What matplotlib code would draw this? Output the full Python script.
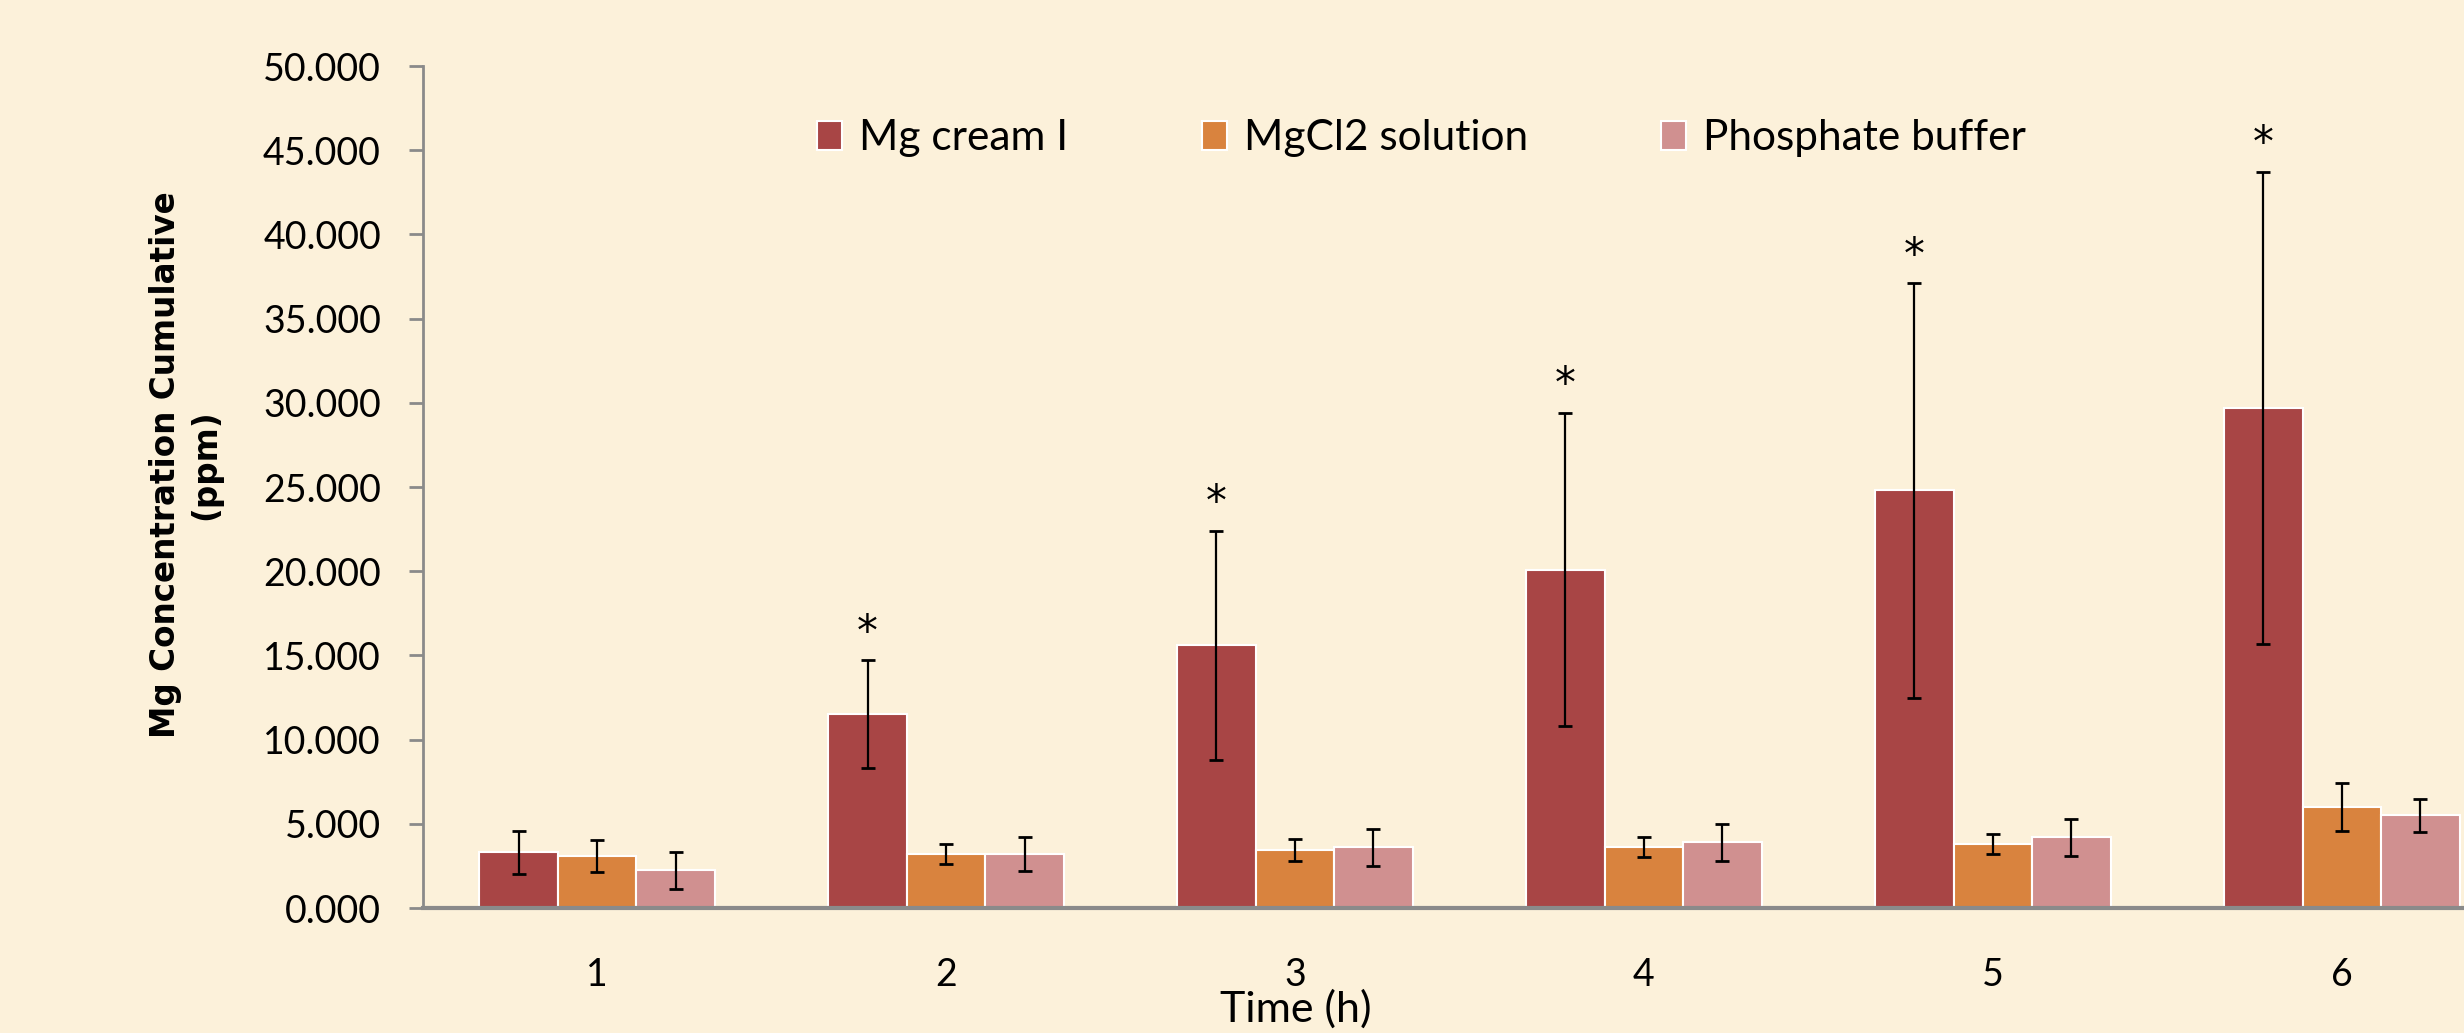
import matplotlib
matplotlib.use("Agg")
import matplotlib.pyplot as plt
import numpy as np

# data
hours = [1, 2, 3, 4, 5, 6]
series_names = ["Mg cream I", "MgCl2 solution", "Phosphate buffer"]
cream = [3.3, 11.5, 15.6, 20.1, 24.8, 29.7]
cream_err = [1.3, 3.2, 6.8, 9.3, 12.3, 14.0]
mgcl2 = [3.1, 3.2, 3.45, 3.6, 3.8, 6.0]
mgcl2_err = [0.95, 0.6, 0.65, 0.6, 0.6, 1.4]
buffer = [2.25, 3.2, 3.6, 3.9, 4.2, 5.5]
buffer_err = [1.1, 1.0, 1.1, 1.1, 1.1, 1.0]
significant = [False, True, True, True, True, True]

colors = ["#A84545", "#D9833E", "#D09090"]
bg = "#FCF1DA"

plt.rcParams["font.family"] = ["Lato", "DejaVu Sans"]

fig = plt.figure(figsize=(24.64, 10.33), dpi=100, facecolor=bg)
ax = fig.add_axes([0.1715, 0.121, 0.8285, 0.815])
ax.set_facecolor(bg)

x = np.array(hours, dtype=float)
w = 0.225
bars = []
for i, (vals, errs) in enumerate([(cream, cream_err), (mgcl2, mgcl2_err), (buffer, buffer_err)]):
    b = ax.bar(x + (i - 1) * w, vals, w, color=colors[i], edgecolor="white", linewidth=1.5,
               label=series_names[i], zorder=2)
    bars.append(b)
    ax.errorbar(x + (i - 1) * w, vals, yerr=errs, fmt="none", ecolor="black",
                elinewidth=1.6, capsize=5, capthick=2, zorder=3)

for xi, v, e, s in zip(x, cream, cream_err, significant):
    if s:
        ax.text(xi - w, v + e + 0.4, "*", ha="center", va="bottom", fontsize=30,
                family="DejaVu Sans", zorder=4)

ax.set_xlim(0.5, 6.35)
ax.set_ylim(0, 50)
ax.set_yticks(np.arange(0, 50.1, 5))
ax.set_yticklabels([f"{t:.3f}" for t in np.arange(0, 50.1, 5)])
ax.set_xticks(x)
ax.set_xticklabels([str(h) for h in hours])
ax.tick_params(axis="y", labelsize=27, length=10, width=2, color="#8A8A8A", pad=20)
ax.tick_params(axis="x", labelsize=27, length=0, pad=35)

for side in ["top", "right"]:
    ax.spines[side].set_visible(False)
ax.spines["left"].set_color("#8A8A8A")
ax.spines["left"].set_linewidth(2)
ax.spines["bottom"].set_color("#8A8A8A")
ax.spines["bottom"].set_linewidth(3)

ax.set_ylabel("Mg Concentration Cumulative\n(ppm)", fontsize=23.5, fontweight="bold",
              family="DejaVu Sans", linespacing=1.3)
ax.yaxis.set_label_coords(-0.098, 0.527)
fig.text(0.526, 0.004, "Time (h)", ha="center", va="bottom", fontsize=31)

# legend entries placed one by one, like the spread-out legend of the reference
legend_x = [0.3316, 0.4878, 0.6741]
for i, lx in enumerate(legend_x):
    leg = fig.legend([bars[i]], [series_names[i]], loc="center left",
                     bbox_to_anchor=(lx, 0.866), frameon=False, fontsize=30.5,
                     handlelength=0.6, handleheight=0.7, handletextpad=0.4,
                     borderpad=0, borderaxespad=0)
    for h in leg.legend_handles:
        h.set_edgecolor("white")

fig.savefig("out.png", dpi=100, facecolor=bg)
